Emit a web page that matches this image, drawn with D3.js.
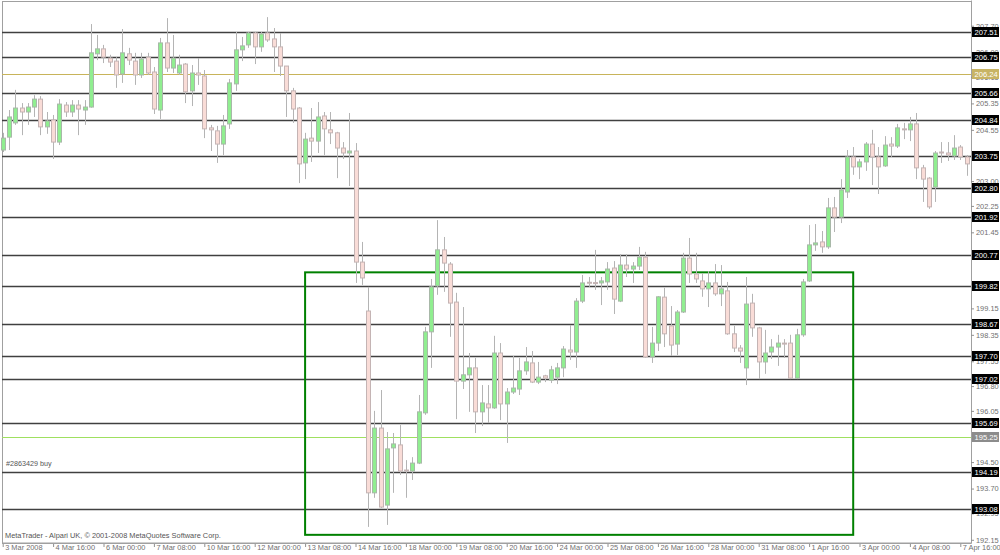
<!DOCTYPE html>
<html><head><meta charset="utf-8">
<script src="https://cdn.jsdelivr.net/npm/d3@7"></script>
<style>
body{margin:0;background:#fff}
svg{display:block}
text{font-family:"Liberation Sans",Arial,sans-serif}
</style>
</head><body>
<svg id="c" width="1000" height="555"></svg>
<script>
// ---- data ----
const timeLabels = ["3 Mar 2008","4 Mar 16:00","6 Mar 00:00","7 Mar 08:00","10 Mar 16:00","12 Mar 00:00","13 Mar 08:00","14 Mar 16:00","18 Mar 00:00","19 Mar 08:00","20 Mar 16:00","24 Mar 00:00","25 Mar 08:00","26 Mar 16:00","28 Mar 00:00","31 Mar 08:00","1 Apr 16:00","3 Apr 00:00","4 Apr 08:00","7 Apr 16:00"];
const barsPerLabel = 8;

const open = [
203.94,204.33,204.76,205.21,205.09,205.24,205.48,204.64,204.85,204.18,
205.30,205.09,205.30,205.15,205.24,206.85,207.00,206.72,206.63,206.24,
206.85,206.63,206.21,206.75,206.30,205.15,207.18,206.42,206.27,206.54,
205.73,206.27,206.18,204.61,204.52,204.12,204.73,205.94,206.97,207.12,
207.48,207.06,207.48,207.30,207.06,206.48,205.73,205.21,203.55,204.30,
204.21,204.97,204.55,204.46,204.00,203.85,203.91,200.55,199.07,193.57,
195.53,193.20,194.93,195.02,194.26,194.23,194.47,195.99,198.44,199.83,
200.92,200.49,199.34,196.95,197.14,197.35,196.02,196.26,196.14,197.80,
196.26,196.62,196.71,197.26,197.50,196.92,197.11,196.98,197.07,197.35,
197.89,197.83,199.37,199.94,199.93,199.92,199.95,200.37,199.37,200.46,
200.34,200.43,200.70,197.68,198.10,199.49,198.62,198.07,199.04,200.67,
200.19,199.98,199.74,199.92,199.59,199.68,198.38,197.95,197.35,199.31,
198.56,197.53,197.83,197.98,198.10,198.10,197.04,198.35,199.98,201.07,
201.16,201.01,202.19,201.91,202.67,203.73,203.43,203.58,204.12,203.73,
203.46,204.12,204.06,204.58,204.55,204.73,203.40,203.09,202.82,203.88,
203.85,203.76,204.03,203.73];
const high = [
204.46,205.15,205.76,205.36,205.36,205.60,205.57,205.09,205.00,205.48,
205.39,205.45,205.45,205.45,207.75,207.42,207.12,206.82,206.75,207.60,
207.03,206.88,206.88,206.88,206.45,207.33,207.93,207.42,206.82,206.57,
206.51,206.72,206.36,204.70,204.67,205.00,206.09,207.51,207.36,207.51,
207.51,207.51,207.96,207.63,207.48,206.48,205.82,205.24,204.46,205.21,
205.39,205.09,205.09,204.49,204.18,205.06,204.15,201.16,199.80,196.05,
196.68,195.41,195.38,195.62,194.56,194.65,196.53,198.59,200.04,201.82,
201.31,200.55,199.62,199.19,197.80,197.65,196.83,196.83,198.32,198.10,
196.74,197.71,197.65,197.98,197.86,197.53,197.14,197.41,197.50,198.01,
198.65,199.46,200.16,200.10,200.92,200.10,200.55,200.58,200.79,200.79,
200.55,201.01,200.86,198.59,199.52,199.77,199.22,199.10,200.83,201.28,
200.83,200.22,200.28,200.49,200.46,199.95,198.62,198.04,200.10,199.59,
198.59,198.50,198.22,198.35,198.22,198.35,198.53,200.04,201.67,201.70,
201.49,202.49,202.52,203.06,203.94,204.03,203.67,204.18,204.55,204.03,
204.36,204.33,204.73,204.76,204.94,205.06,203.49,203.12,203.91,204.18,
204.18,204.39,204.09,203.79];
const low = [
203.88,203.94,204.70,204.39,204.70,204.94,204.39,204.43,203.67,204.09,
204.94,204.94,204.39,204.70,205.22,206.66,206.57,206.45,205.82,205.97,
206.51,205.91,206.12,206.21,205.03,204.88,206.30,206.27,206.21,205.36,
205.27,205.91,204.30,203.91,203.55,203.79,204.58,205.73,206.63,207.03,
206.54,206.91,207.21,206.30,206.18,204.94,204.76,202.94,203.06,203.58,
203.85,203.79,204.12,203.09,203.67,202.85,199.92,199.86,192.54,193.42,
193.11,192.60,193.57,194.11,193.42,193.96,194.44,195.93,197.35,199.56,
199.65,198.29,195.80,196.71,196.02,195.38,195.59,195.68,196.11,195.77,
195.08,196.56,196.53,197.14,196.89,196.86,196.92,196.89,196.86,197.07,
197.59,197.35,199.31,199.80,199.71,199.25,199.71,198.98,199.34,200.10,
199.92,200.31,197.65,197.50,197.86,197.98,197.71,197.74,199.01,199.92,
199.92,199.50,199.19,199.53,199.22,198.35,197.83,197.50,196.83,198.29,
197.01,197.17,197.62,197.41,197.65,197.01,197.01,198.29,199.95,200.89,
200.83,200.95,201.46,201.73,202.49,203.19,203.06,203.31,202.88,202.61,
203.43,203.73,204.00,204.27,204.21,203.06,202.37,202.16,202.37,203.55,
203.61,203.64,203.64,203.16];
const close = [
204.30,204.94,205.21,205.09,205.24,205.48,204.64,204.82,204.18,205.33,
205.09,205.30,205.18,205.24,206.88,207.00,206.75,206.60,206.21,206.88,
206.66,206.21,206.69,206.27,205.18,207.18,206.42,206.72,206.51,205.70,
206.27,206.21,204.58,204.55,204.12,204.67,205.97,206.97,207.09,207.48,
207.06,207.45,207.27,207.06,206.48,205.73,205.18,203.52,204.27,204.21,
204.94,204.58,204.46,204.00,203.85,203.91,200.55,200.07,193.57,195.53,
193.14,194.90,195.05,194.23,194.23,194.47,196.02,198.44,199.80,200.92,
200.52,199.31,196.95,197.14,197.35,196.02,196.29,196.14,197.80,196.26,
196.62,196.74,197.26,197.53,196.92,197.07,197.04,197.29,197.35,197.92,
197.83,199.37,199.92,199.91,199.92,199.98,200.34,199.43,200.46,200.34,
200.43,200.70,197.68,198.10,199.50,198.38,198.04,199.04,200.67,200.19,
200.04,199.74,199.92,199.59,199.74,198.38,197.95,197.86,199.28,198.56,
197.53,197.80,197.98,198.10,198.07,197.04,198.35,199.95,201.07,201.13,
201.01,202.19,201.91,202.73,203.73,203.43,203.58,204.12,203.73,203.43,
204.09,204.06,204.61,204.57,204.73,203.40,203.06,202.22,203.85,203.85,
203.79,204.00,203.73,203.52];

const priceTicks = [207.70,206.90,206.15,205.35,204.55,203.00,202.25,201.45,199.90,199.15,198.35,197.55,196.80,196.05,194.50,193.70,192.95,192.15];
const levelPrices = [207.51,206.75,205.66,204.84,203.75,202.80,201.92,200.77,199.82,198.67,197.70,197.02,195.69,194.19,193.08];
const goldPrice = 206.24;
const limePrice = 195.25;
const zoneBars = [48, 135];
const zonePrices = [200.24, 192.30];
const orderLabel = "#2863429 buy";
const footerLabel = "MetaTrader - Alpari UK, \u00a9 2001-2008 MetaQuotes Software Corp.";

// ---- layout ----
const L = 2, R = 971, T = 2, B = 543;
const svg = d3.select("#c");
const x = d3.scaleLinear().domain([0, 152]).range([2.7, 960.3]);
const y = d3.scaleLinear().domain([192.053, 208.478]).range([B, 0]);

const bars = d3.range(open.length).map(i => ({i, o: open[i], h: high[i], l: low[i], c: close[i]}));

// frame
svg.append("rect").attr("x", L + 0.5).attr("y", T - 0.5).attr("width", R - L).attr("height", B - T + 0.5)
  .attr("fill", "#fff").attr("stroke", "#a0a0a0");

// level lines
svg.append("g").selectAll("line").data(levelPrices).join("line")
  .attr("x1", L).attr("x2", R)
  .attr("y1", d => Math.round(y(d)) + 0.5).attr("y2", d => Math.round(y(d)) + 0.5)
  .attr("stroke", "#404040").attr("stroke-width", 1.6);
svg.append("line").attr("x1", L).attr("x2", R)
  .attr("y1", Math.round(y(goldPrice)) + 0.5).attr("y2", Math.round(y(goldPrice)) + 0.5)
  .attr("stroke", "#c8b45a").attr("stroke-width", 1);
svg.append("line").attr("x1", L).attr("x2", R)
  .attr("y1", Math.round(y(limePrice)) + 0.5).attr("y2", Math.round(y(limePrice)) + 0.5)
  .attr("stroke", "#9fe060").attr("stroke-width", 1);

// zone rectangle
svg.append("rect")
  .attr("x", x(zoneBars[0])).attr("y", y(zonePrices[0]))
  .attr("width", x(zoneBars[1]) - x(zoneBars[0])).attr("height", y(zonePrices[1]) - y(zonePrices[0]))
  .attr("fill", "none").attr("stroke", "#008000").attr("stroke-width", 2);

// candles
const cg = svg.append("g");
const cx = d => Math.round(x(d.i));
cg.selectAll("line.w").data(bars).join("line").attr("class", "w")
  .attr("x1", d => cx(d) + 0.5).attr("x2", d => cx(d) + 0.5)
  .attr("y1", d => y(d.h)).attr("y2", d => y(d.l))
  .attr("stroke", "#b4b4b4").attr("stroke-width", 1);
cg.selectAll("rect").data(bars).join("rect")
  .attr("x", d => cx(d) - 1.5)
  .attr("y", d => y(Math.max(d.o, d.c)))
  .attr("width", 4)
  .attr("height", d => Math.max(1, y(Math.min(d.o, d.c)) - y(Math.max(d.o, d.c))))
  .attr("fill", d => d.c > d.o ? "#90ee90" : "#f9dcd7")
  .attr("stroke", d => d.c > d.o ? "#a8b8a8" : "#c4b4b4").attr("stroke-width", 1);

// right axis
const ra = svg.append("g").attr("transform", `translate(${R},0)`)
  .call(d3.axisRight(y).tickValues(priceTicks).tickSize(3).tickSizeOuter(0).tickFormat(d3.format(".2f")));
ra.select(".domain").attr("stroke", "#a0a0a0");
ra.selectAll(".tick line").attr("stroke", "#909090");
ra.selectAll(".tick text").attr("x", 5).attr("fill", "#707070")
  .style("font-size", "7.4px").style("font-family", "'Liberation Sans',Arial,sans-serif");

// bottom axis
const ba = svg.append("g").attr("transform", `translate(0,${B})`)
  .call(d3.axisBottom(x).tickValues(d3.range(0, timeLabels.length * barsPerLabel, barsPerLabel))
    .tickSize(4).tickSizeOuter(0).tickFormat((d, i) => timeLabels[i]));
ba.select(".domain").remove();
ba.selectAll(".tick line").attr("stroke", "#909090");
ba.selectAll(".tick text").attr("text-anchor", "start").attr("x", 2).attr("y", 2).attr("fill", "#707070")
  .style("font-size", "7.4px").style("font-family", "'Liberation Sans',Arial,sans-serif");
svg.append("line").attr("x1", L).attr("x2", R).attr("y1", B + 0.5).attr("y2", B + 0.5).attr("stroke", "#a0a0a0");

// price label boxes
function priceBox(p, fill, color) {
  const g = svg.append("g").attr("transform", `translate(${R + 1},${Math.round(y(p))})`);
  g.append("rect").attr("x", 0).attr("y", -5).attr("width", 27).attr("height", 10).attr("fill", fill);
  g.append("text").attr("x", 2.5).attr("y", 3).attr("fill", color)
    .style("font-size", "7.6px").text(p.toFixed(2));
}
levelPrices.forEach(p => priceBox(p, "#000", "#fff"));
priceBox(goldPrice, "#c8b464", "#fff");
priceBox(limePrice, "#8c8c8c", "#fff");

// texts
svg.append("text").attr("x", 6).attr("y", 466).attr("fill", "#555").style("font-size", "7.2px").text(orderLabel);
svg.append("text").attr("x", 5).attr("y", 538).attr("fill", "#555").style("font-size", "7.4px").text(footerLabel);
</script>
</body></html>
